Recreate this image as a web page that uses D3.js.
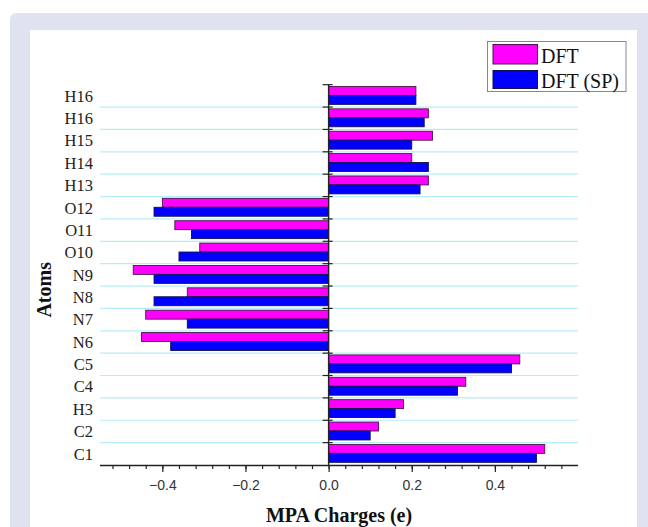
<!DOCTYPE html>
<html>
<head>
<meta charset="utf-8">
<script src="https://cdn.jsdelivr.net/npm/d3@7"></script>
<style>
  html, body { margin: 0; padding: 0; background: #ffffff; }
  svg { display: block; }
</style>
</head>
<body>
<svg id="chart" width="648" height="527"></svg>
<script>
// Categories listed from bottom to top
const atoms = ["C1", "C2", "H3", "C4", "C5", "N6", "N7", "N8", "N9", "O10", "O11", "O12", "H13", "H14", "H15", "H16", "H16 "];
const seriesNames = ["DFT", "DFT (SP)"];
const dft   = [0.52, 0.12, 0.18, 0.33, 0.46, -0.45, -0.44, -0.34, -0.47, -0.31, -0.37, -0.40, 0.24, 0.20, 0.25, 0.24, 0.21];
const dftSP = [0.50, 0.10, 0.16, 0.31, 0.44, -0.38, -0.34, -0.42, -0.42, -0.36, -0.33, -0.42, 0.22, 0.24, 0.20, 0.23, 0.21];
const majorTicks = [-0.4, -0.2, 0.0, 0.2, 0.4];
const seriesColors = ["#ff00ff", "#0000ff"];

const svg = d3.select("#chart");

// Background panels
svg.append("rect").attr("x", 10).attr("y", 13).attr("width", 660).attr("height", 540)
  .attr("rx", 6).attr("fill", "#dfe2ef");
svg.append("rect").attr("x", 30).attr("y", 30).attr("width", 607).attr("height", 520)
  .attr("fill", "#ffffff");

const pLeft = 100, pRight = 578, pTop = 84.7, pBottom = 465;

const x = d3.scaleLinear().domain([-0.55, 0.6]).range([pLeft, pRight]);
const y = d3.scaleBand().domain(atoms).range([pBottom, pTop]).padding(0);
const y1 = d3.scaleBand().domain(seriesNames).range([y.bandwidth() * 0.08, y.bandwidth() * 0.88]).padding(0);

// Gridlines at band boundaries (excluding top)
const boundaries = atoms.map(a => y(a)); // top edge of each band
svg.append("g").selectAll("line")
  .data(boundaries.filter(b => b > pTop + 1))
  .join("line")
  .attr("x1", pLeft).attr("x2", pRight)
  .attr("y1", d => d).attr("y2", d => d)
  .attr("stroke", "#b6eef6").attr("stroke-width", 1.2);

// Bars
const rows = atoms.map((a, i) => ({ atom: a, vals: [dft[i], dftSP[i]] }));
const g = svg.append("g");
rows.forEach(r => {
  r.vals.forEach((v, j) => {
    g.append("rect")
      .attr("x", Math.min(x(0), x(v)))
      .attr("y", y(r.atom) + y1(seriesNames[j]))
      .attr("width", Math.abs(x(v) - x(0)))
      .attr("height", y1.bandwidth())
      .attr("fill", seriesColors[j])
      .attr("stroke", j === 0 ? "#4a1448" : "#101050")
      .attr("stroke-width", 0.9);
  });
});

// X axis
const minorTicks = d3.range(-0.52, 0.5601, 0.04).map(v => +v.toFixed(2));
const xAxisMinor = d3.axisBottom(x).tickValues(minorTicks).tickSize(4).tickFormat("");
const gxm = svg.append("g").attr("transform", `translate(0,${pBottom})`).call(xAxisMinor);
gxm.select(".domain").remove();
gxm.selectAll(".tick line").attr("stroke", "#222").attr("stroke-width", 1.2);

const xAxis = d3.axisBottom(x).tickValues(majorTicks).tickSize(7).tickSizeOuter(0)
  .tickFormat(d3.format(".1f"));
const gx = svg.append("g").attr("transform", `translate(0,${pBottom})`).call(xAxis);
gx.select(".domain").attr("stroke", "#222").attr("stroke-width", 1.6).attr("d", `M${pLeft},0.5H${pRight}`);
gx.selectAll(".tick line").attr("stroke", "#222").attr("stroke-width", 1.2);
gx.selectAll(".tick text")
  .attr("font-family", "Liberation Sans, Arial, sans-serif")
  .attr("font-size", 14).attr("fill", "#333").attr("dy", "1.05em");

// Y axis line at zero with crossing ticks at band boundaries
svg.append("line").attr("x1", x(0)).attr("x2", x(0)).attr("y1", pTop).attr("y2", pBottom)
  .attr("stroke", "#222").attr("stroke-width", 1.4);
svg.append("g").selectAll("line")
  .data(boundaries)
  .join("line")
  .attr("x1", x(0) - 6).attr("x2", x(0) + 4)
  .attr("y1", d => d).attr("y2", d => d)
  .attr("stroke", "#222").attr("stroke-width", 1.2);

// Y labels
svg.append("g").selectAll("text")
  .data(atoms)
  .join("text")
  .attr("x", 93)
  .attr("y", d => y(d) + y.bandwidth() / 2)
  .attr("dy", "0.35em")
  .attr("text-anchor", "end")
  .attr("font-family", "Liberation Serif, Times New Roman, serif")
  .attr("font-size", 16.5)
  .attr("fill", "#222")
  .text(d => d.trim());

// Axis titles
svg.append("text")
  .attr("x", (pLeft + pRight) / 2).attr("y", 522)
  .attr("text-anchor", "middle")
  .attr("font-family", "Liberation Serif, Times New Roman, serif")
  .attr("font-weight", "bold").attr("font-size", 20).attr("fill", "#111")
  .text("MPA Charges (e)");
svg.append("text")
  .attr("transform", `translate(51,${(pTop + pBottom) / 2 + 15}) rotate(-90)`)
  .attr("text-anchor", "middle")
  .attr("font-family", "Liberation Serif, Times New Roman, serif")
  .attr("font-weight", "bold").attr("font-size", 20).attr("fill", "#111")
  .text("Atoms");

// Legend
const lg = svg.append("g");
lg.append("rect").attr("x", 487.5).attr("y", 41.5).attr("width", 138.5).attr("height", 50)
  .attr("fill", "#fff").attr("stroke", "#888").attr("stroke-width", 1);
seriesNames.forEach((s, i) => {
  lg.append("rect").attr("x", 493).attr("y", i === 0 ? 44.5 : 70.5)
    .attr("width", 44.5).attr("height", i === 0 ? 19.5 : 18)
    .attr("fill", seriesColors[i]).attr("stroke", i === 0 ? "#4a1448" : "#101050").attr("stroke-width", 1);
  lg.append("text").attr("x", 541).attr("y", i === 0 ? 62.5 : 87.5)
    .attr("font-family", "Liberation Serif, Times New Roman, serif")
    .attr("font-size", 20).attr("fill", "#111")
    .text(s);
});
</script>
</body>
</html>
